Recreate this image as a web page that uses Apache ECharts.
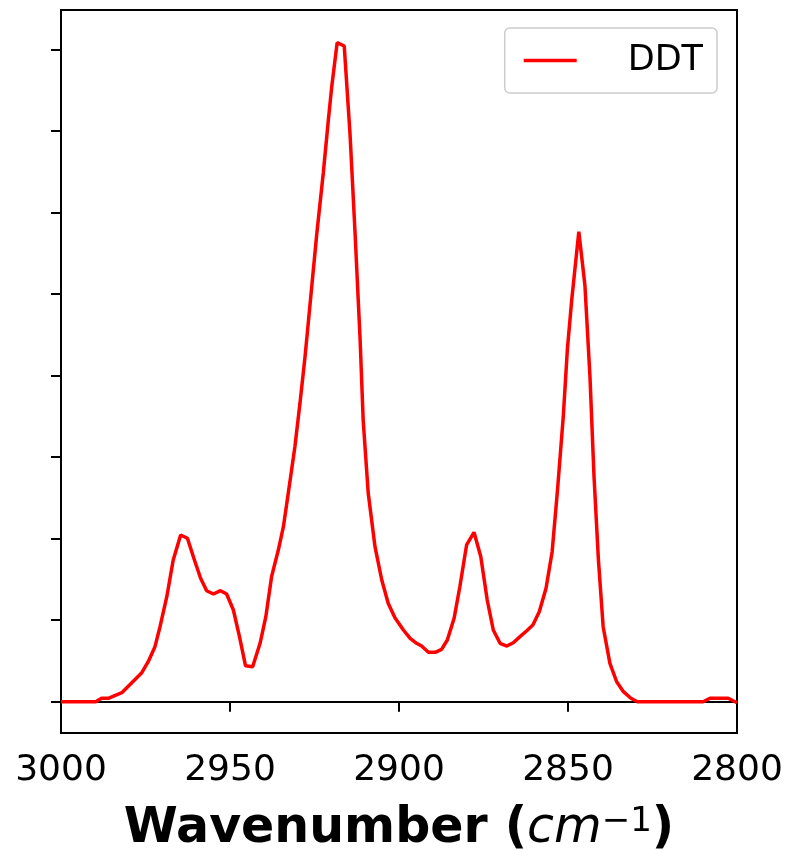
<!DOCTYPE html>
<html>
<head>
<meta charset="utf-8">
<script src="https://cdn.jsdelivr.net/npm/echarts@6/dist/echarts.min.js"></script>
<style>
  html, body { margin: 0; padding: 0; background: #fff; }
  #chart { width: 789px; height: 850px; }
</style>
</head>
<body>
<div id="chart"></div>
<script>
// wavenumber (cm^-1) and absorbance (arb. units, 1 = one y tick)
const wavenumber = [
  3000, 2989.7, 2988.0, 2986.0, 2982.0, 2976.1, 2974.2, 2972.2, 2970.7, 2968.7,
  2966.8, 2964.6, 2962.6, 2960.7, 2958.7, 2956.9, 2954.9, 2952.8, 2951.0, 2949.0,
  2947.2, 2945.4, 2943.3, 2941.1, 2939.4, 2937.7, 2935.7, 2934.2, 2932.2, 2930.8,
  2929.3, 2927.8, 2924.3, 2922.4, 2920.9, 2919.9, 2918.3, 2916.2, 2914.5, 2913.0,
  2911.5, 2910.6, 2909.1, 2907.1, 2905.1, 2903.2, 2901.2, 2898.7, 2896.7, 2894.8,
  2893.3, 2891.3, 2889.3, 2887.4, 2885.7, 2883.7, 2882.0, 2880.0, 2877.8, 2875.8,
  2873.9, 2872.1, 2870.1, 2868.1, 2866.2, 2864.2, 2862.2, 2860.4, 2858.5, 2856.5,
  2854.7, 2853.1, 2851.4, 2850.2, 2848.9, 2846.8, 2845.0, 2843.5, 2842.3, 2841.0,
  2839.6, 2837.6, 2835.6, 2833.6, 2831.4, 2829.5, 2810.0, 2808.0, 2802.6, 2800.6,
  2800
]
const ddt = [
  0, 0, 0.042, 0.042, 0.110, 0.356, 0.491, 0.675, 0.920, 1.288,
  1.739, 2.045, 2.005, 1.760, 1.514, 1.362, 1.321, 1.362, 1.321, 1.125,
  0.798, 0.440, 0.430, 0.717, 1.043, 1.534, 1.861, 2.147, 2.720, 3.129,
  3.661, 4.233, 5.751, 6.487, 7.137, 7.546, 8.086, 8.045, 6.974, 5.751,
  4.438, 3.456, 2.557, 1.902, 1.493, 1.207, 1.031, 0.880, 0.778, 0.717,
  0.683, 0.606, 0.606, 0.643, 0.757, 1.023, 1.411, 1.923, 2.079, 1.779,
  1.248, 0.880, 0.717, 0.683, 0.724, 0.798, 0.871, 0.941, 1.104, 1.391,
  1.837, 2.598, 3.497, 4.315, 4.929, 5.767, 5.113, 3.988, 2.761, 1.739,
  0.920, 0.471, 0.245, 0.123, 0.042, 0, 0, 0.042, 0.042, 0,
  -0.01
]
// unlabelled y ticks
const yTicks = [0, 1, 2, 3, 4, 5, 6, 7, 8]
const seriesName = 'DDT'

const font = 'DejaVu Sans'
const chart = echarts.init(document.getElementById('chart'))

const option = {
  animation: false,
  backgroundColor: '#fff',
  grid: {
    left: 61,
    right: 52,
    top: 10,
    bottom: 117,
    containLabel: false,
    outerBoundsMode: 'none',
    show: true,
    borderColor: '#000',
    borderWidth: 2,
  },
  legend: {
    data: [{ name: seriesName, icon: 'rect' }],
    right: 72,
    top: 28,
    orient: 'vertical',
    backgroundColor: 'rgba(255,255,255,0.8)',
    borderColor: '#cccccc',
    borderWidth: 1.5,
    borderRadius: 5,
    padding: [15, 14, 15, 19],
    itemWidth: 53,
    itemHeight: 3.5,
    textStyle: {
      fontFamily: font,
      fontSize: 35,
      color: '#000',
      padding: [0, 0, 0, 46],
    },
  },
  xAxis: {
    type: 'value',
    inverse: true,
    min: 2800,
    max: 3000,
    interval: 50,
    axisLine: { lineStyle: { color: '#000', width: 2 } },
    axisTick: { show: true, inside: false, length: 10, lineStyle: { color: '#000', width: 2 } },
    axisLabel: {
      fontFamily: font,
      fontSize: 36,
      color: '#000',
      margin: 20,
      showMinLabel: true,
      showMaxLabel: true,
      formatter: (v) => String(v),
    },
    splitLine: { show: false },
    name: '{b|Wavenumber (}{i|cm}{s|\u22121}{b|)}',
    nameLocation: 'middle',
    nameGap: 72,
    nameTextStyle: {
      rich: {
        b: { fontFamily: font, fontWeight: 'bold', fontSize: 49, color: '#000', verticalAlign: 'bottom' },
        i: { fontFamily: font, fontStyle: 'italic', fontSize: 49, color: '#000', verticalAlign: 'bottom' },
        s: { fontFamily: font, fontSize: 34, color: '#000', verticalAlign: 'top' },
      },
    },
  },
  yAxis: {
    type: 'value',
    min: -0.384,
    max: 8.487,
    axisLine: { show: true, lineStyle: { color: '#000', width: 2 } },
    axisTick: {
      show: true,
      inside: false,
      length: 10,
      customValues: yTicks,
      lineStyle: { color: '#000', width: 2 },
    },
    axisLabel: { show: false },
    splitLine: { show: false },
  },
  series: [
    {
      name: seriesName,
      type: 'line',
      data: wavenumber.map((w, i) => [w, ddt[i]]),
      symbol: 'none',
      smooth: false,
      lineStyle: { color: '#ff0000', width: 3.5 },
      itemStyle: { color: '#ff0000' },
    },
  ],
}

chart.setOption(option)
</script>
</body>
</html>
